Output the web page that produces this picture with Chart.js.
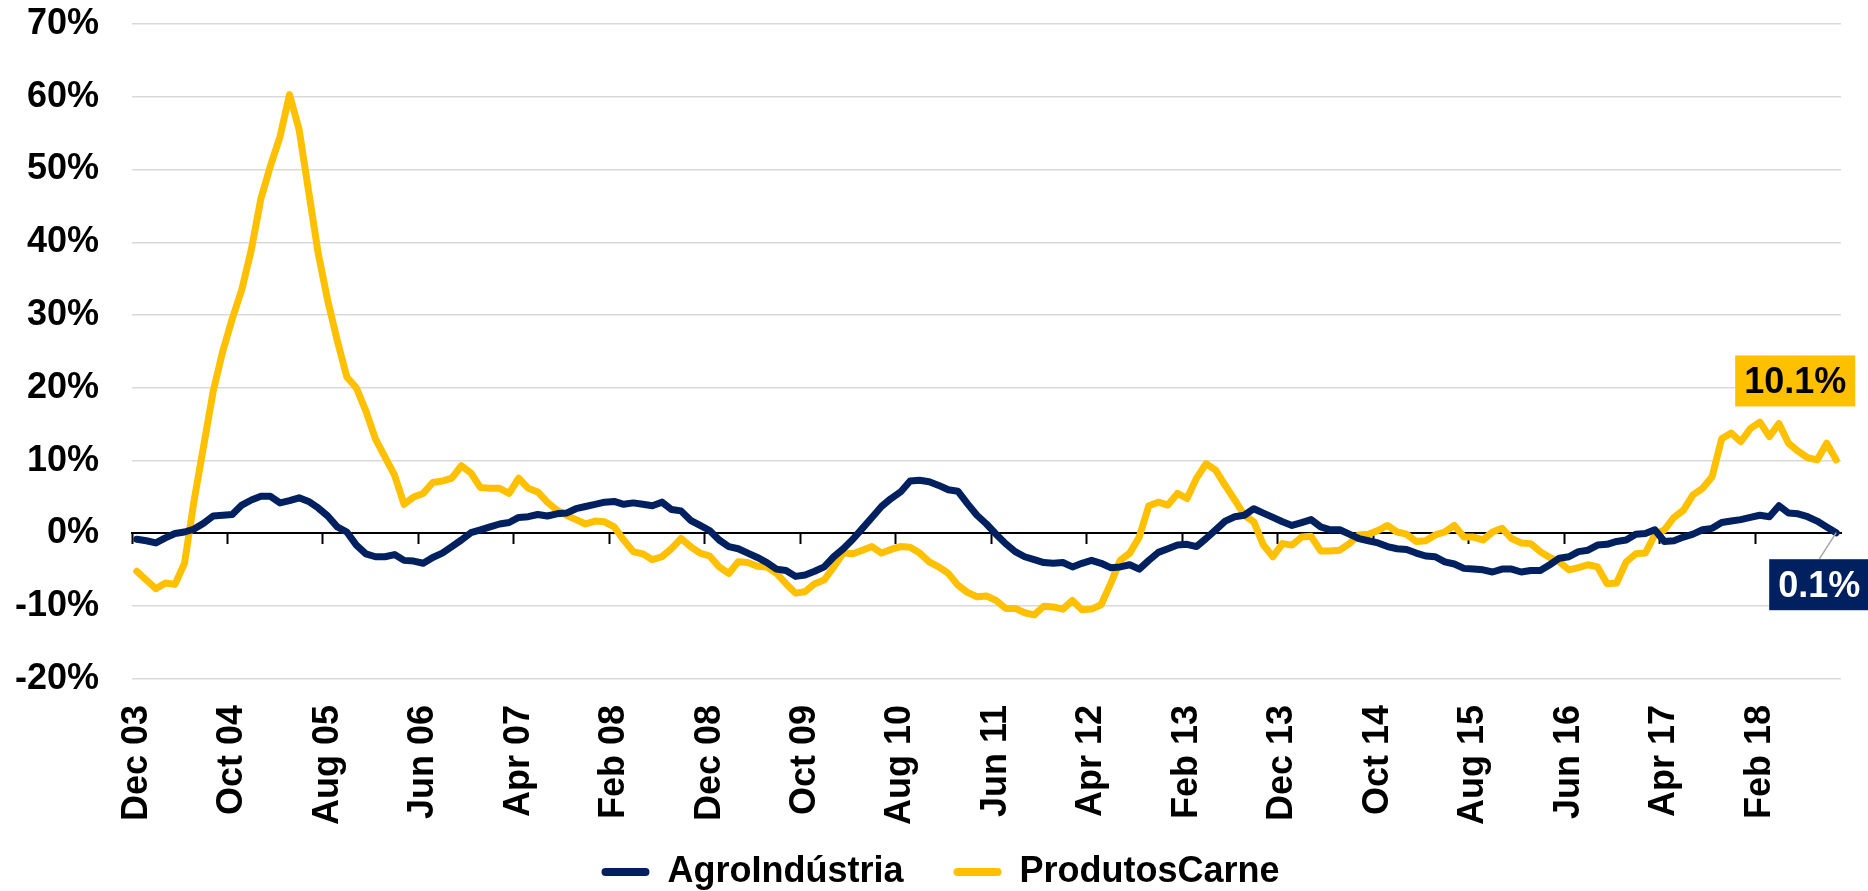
<!DOCTYPE html>
<html>
<head>
<meta charset="utf-8">
<script src="https://cdn.jsdelivr.net/npm/chart.js@4.4.1/dist/chart.umd.min.js"></script>
<style>
  html, body { margin: 0; padding: 0; background: #fff; }
  #wrap { width: 1868px; height: 891px; }
</style>
</head>
<body>
<div id="wrap"><canvas id="mainChart"></canvas></div>
<script>
// months, Dec 03 .. Oct 18
const monthNames = ['Jan', 'Feb', 'Mar', 'Apr', 'May', 'Jun', 'Jul', 'Aug', 'Sep', 'Oct', 'Nov', 'Dec'];
const startYear = 2003;
const startMonth = 11; // Dec
const labelEvery = 10;

const agroIndustria = [
  -0.8, -1.0, -1.3, -0.6, 0.0, 0.2, 0.6, 1.4, 2.4, 2.5,
  2.6, 3.9, 4.6, 5.1, 5.1, 4.2, 4.5, 4.9, 4.4, 3.5,
  2.4, 0.9, 0.2, -1.6, -2.8, -3.2, -3.2, -2.9, -3.7, -3.8,
  -4.1, -3.3, -2.7, -1.8, -0.9, 0.1, 0.5, 0.9, 1.3, 1.5,
  2.2, 2.3, 2.6, 2.4, 2.7, 2.8, 3.4, 3.7, 4.0, 4.3,
  4.4, 4.0, 4.2, 4.0, 3.8, 4.3, 3.3, 3.1, 1.8, 1.1,
  0.4, -0.9, -1.8, -2.1, -2.7, -3.3, -4.0, -4.9, -5.1, -5.9,
  -5.7, -5.2, -4.6, -3.2, -2.1, -0.8, 0.7, 2.2, 3.7, 4.8,
  5.7, 7.2, 7.3, 7.1, 6.6, 6.0, 5.8, 4.1, 2.5, 1.3,
  -0.1, -1.4, -2.5, -3.2, -3.6, -4.0, -4.1, -4.0, -4.6, -4.1,
  -3.7, -4.1, -4.7, -4.6, -4.3, -4.9, -3.7, -2.6, -2.1, -1.6,
  -1.5, -1.8, -0.7, 0.5, 1.7, 2.3, 2.5, 3.4, 2.8, 2.2,
  1.6, 1.1, 1.5, 1.9, 0.9, 0.5, 0.5, -0.1, -0.7, -1.0,
  -1.3, -1.8, -2.1, -2.2, -2.7, -3.1, -3.2, -3.9, -4.2, -4.8,
  -4.9, -5.0, -5.3, -4.9, -4.9, -5.3, -5.1, -5.1, -4.3, -3.4,
  -3.2, -2.5, -2.3, -1.6, -1.5, -1.1, -0.9, -0.1, 0.0, 0.5,
  -1.1, -1.0, -0.5, -0.1, 0.5, 0.7, 1.5, 1.7, 1.9, 2.2,
  2.5, 2.3, 3.8, 2.8, 2.7, 2.3, 1.7, 0.9, 0.1
];

const produtosCarne = [
  -5.2, -6.4, -7.6, -6.8, -7.0, -4.1, 4.5, 12.0, 19.5, 25.0,
  29.5, 33.5, 39.0, 46.0, 50.5, 54.5, 60.3, 55.5, 47.0, 38.5,
  32.0, 26.5, 21.5, 20.0, 16.8, 13.0, 10.5, 8.0, 4.0, 5.0,
  5.5, 7.0, 7.2, 7.6, 9.3, 8.3, 6.3, 6.2, 6.2, 5.5,
  7.6, 6.2, 5.7, 4.3, 3.2, 2.5, 1.9, 1.3, 1.7, 1.6,
  0.9, -0.9, -2.5, -2.8, -3.6, -3.2, -2.1, -0.7, -1.8, -2.7,
  -3.1, -4.6, -5.5, -3.9, -4.0, -4.5, -4.6, -5.5, -6.9, -8.2,
  -8.0, -6.9, -6.4, -4.6, -2.7, -2.8, -2.3, -1.8, -2.7, -2.2,
  -1.8, -1.9, -2.7, -3.9, -4.6, -5.5, -7.1, -8.1, -8.7, -8.6,
  -9.2, -10.3, -10.3, -10.9, -11.2, -10.0, -10.1, -10.4, -9.2, -10.5,
  -10.4, -9.8, -6.9, -3.7, -2.7, -0.5, 3.8, 4.3, 3.9, 5.5,
  4.8, 7.6, 9.6, 8.7, 6.6, 4.6, 2.5, 1.6, -1.6, -3.2,
  -1.4, -1.6, -0.5, -0.4, -2.4, -2.4, -2.3, -1.4, -0.2, -0.1,
  0.4, 1.1, 0.2, -0.1, -1.1, -1.0, -0.2, 0.2, 1.1, -0.5,
  -0.5, -0.9, 0.2, 0.7, -0.7, -1.3, -1.4, -2.5, -3.3, -3.9,
  -5.0, -4.7, -4.3, -4.6, -6.9, -6.8, -3.9, -2.8, -2.7, -0.2,
  0.5, 2.2, 3.2, 5.3, 6.2, 7.8, 13.0, 13.8, 12.6, 14.4,
  15.3, 13.3, 15.1, 12.4, 11.3, 10.4, 10.1, 12.4, 10.1
];

const yTicks = [-20, -10, 0, 10, 20, 30, 40, 50, 60, 70];

const labels = [];
for (let i = 0; i < agroIndustria.length; i++) {
  const m = (startMonth + i) % 12;
  const y = startYear + Math.floor((startMonth + i) / 12);
  labels.push(monthNames[m] + ' ' + String(y % 100).padStart(2, '0'));
}

const BLUE = '#002060';
const GOLD = '#FFC000';
const FONT = '"Liberation Sans", Arial, sans-serif';

// caixas com o ultimo valor de cada serie
const endLabelPlugin = {
  id: 'endLabels',
  afterDatasetsDraw(chart) {
    const ctx = chart.ctx;
    const boxes = [
      { ds: 1, dx: -41, dy: -79, bg: GOLD, fg: '#000', leader: false },
      { ds: 0, dx: -17, dy: 52, bg: BLUE, fg: '#fff', leader: true }
    ];
    ctx.save();
    ctx.font = 'bold 36px ' + FONT;
    ctx.textAlign = 'center';
    ctx.textBaseline = 'middle';
    boxes.forEach(b => {
      const meta = chart.getDatasetMeta(b.ds);
      const data = chart.data.datasets[b.ds].data;
      const pt = meta.data[meta.data.length - 1];
      const text = data[data.length - 1].toFixed(1) + '%';
      const w = ctx.measureText(text).width + 18;
      const h = 51;
      const cx = pt.x + b.dx;
      const cy = pt.y + b.dy;
      if (b.leader) {
        ctx.strokeStyle = '#A6A6A6';
        ctx.lineWidth = 1.5;
        ctx.beginPath();
        ctx.moveTo(pt.x, pt.y);
        ctx.lineTo(cx, cy - h / 2);
        ctx.stroke();
      }
      ctx.fillStyle = b.bg;
      ctx.fillRect(cx - w / 2, cy - h / 2, w, h);
      ctx.fillStyle = b.fg;
      ctx.fillText(text, cx, cy + 2);
    });
    ctx.restore();
  }
};

function initializeChart() {
  const ctx = document.getElementById('mainChart').getContext('2d');
  new Chart(ctx, {
    type: 'line',
    data: {
      labels: labels,
      datasets: [{
        label: 'AgroIndústria',
        data: agroIndustria,
        borderColor: BLUE,
        backgroundColor: BLUE,
        borderWidth: 7,
        pointRadius: 0,
        tension: 0,
        borderJoinStyle: 'round',
        borderCapStyle: 'round'
      }, {
        label: 'ProdutosCarne',
        data: produtosCarne,
        borderColor: GOLD,
        backgroundColor: GOLD,
        borderWidth: 7,
        pointRadius: 0,
        tension: 0,
        borderJoinStyle: 'round',
        borderCapStyle: 'round'
      }]
    },
    options: {
      responsive: true,
      maintainAspectRatio: false,
      animation: false,
      layout: {
        padding: { left: 40, right: 27, top: 24, bottom: -9 }
      },
      scales: {
        x: {
          type: 'category',
          position: 'bottom',
          offset: true,
          grid: { display: false, offset: true, drawTicks: false },
          border: { display: false },
          ticks: {
            autoSkip: false,
            maxRotation: 90,
            minRotation: 90,
            padding: 26,
            color: '#000',
            font: { family: FONT, size: 36, weight: 'bold' },
            callback: function(val, idx) {
              return idx % labelEvery === 0 ? this.getLabelForValue(val) : '';
            }
          },
          afterFit: s => {
            s.height = 155;
            // rotated labels should not push the plot area in from the sides
            s.paddingLeft = 0;
            s.paddingRight = 0;
          }
        },
        x0: {
          type: 'category',
          position: { y: 0 },
          offset: true,
          grid: {
            display: true,
            offset: true,
            drawOnChartArea: false,
            drawTicks: true,
            tickLength: 10,
            tickWidth: 2,
            tickColor: c => (c.index % labelEvery === 0 ? '#000' : 'rgba(0,0,0,0)')
          },
          border: { display: true, color: '#000', width: 2 },
          ticks: { display: false, autoSkip: false }
        },
        y: {
          min: -20,
          max: 70,
          afterBuildTicks: s => { s.ticks = yTicks.map(v => ({ value: v })); },
          grid: {
            color: c => (c.tick && c.tick.value === 0 ? 'rgba(0,0,0,0)' : '#D9D9D9'),
            lineWidth: 1.5,
            drawTicks: false
          },
          border: { display: false },
          ticks: {
            // mirror + far: labels right aligned at x = 99, not clipped
            mirror: true,
            crossAlign: 'far',
            padding: -117,
            color: '#000',
            font: { family: FONT, size: 36, weight: 'bold' },
            callback: v => v + '%'
          },
          afterFit: s => { s.width = 92; }
        }
      },
      plugins: {
        legend: {
          position: 'bottom',
          labels: {
            boxWidth: 48,
            boxHeight: 8,
            useBorderRadius: true,
            borderRadius: 4,
            padding: 20,
            color: '#000',
            font: { family: FONT, size: 36, weight: 'bold' },
            generateLabels: chart =>
              Chart.defaults.plugins.legend.labels.generateLabels(chart).map((l, i) =>
                Object.assign(l, { lineWidth: 0, text: i === 0 ? l.text + '   ' : l.text }))
          }
        },
        tooltip: { enabled: false }
      }
    },
    plugins: [endLabelPlugin]
  });
}

document.addEventListener('DOMContentLoaded', () => {
  initializeChart();
});
</script>
</body>
</html>
